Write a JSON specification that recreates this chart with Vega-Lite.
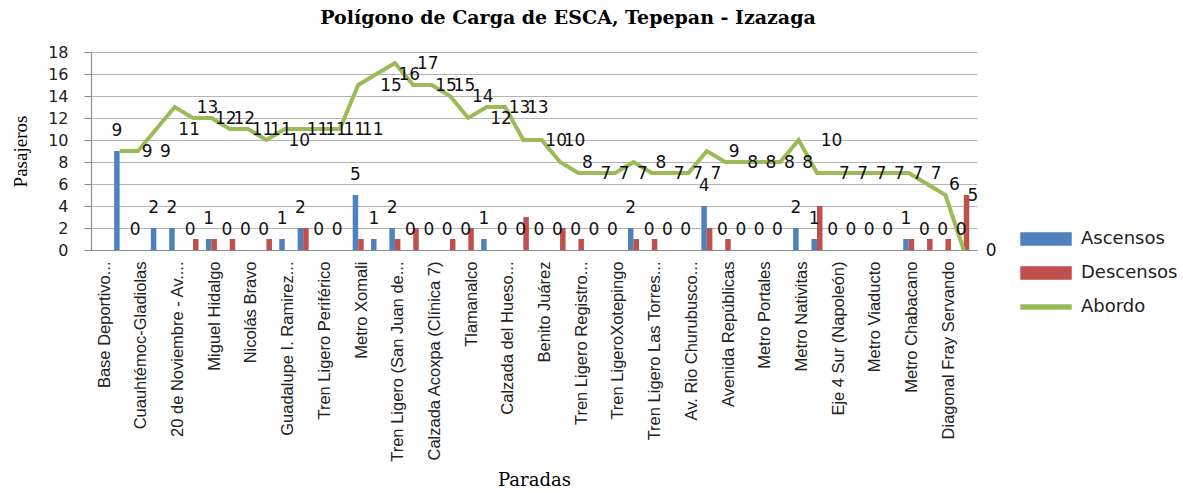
{
  "$schema": "https://vega.github.io/schema/vega-lite/v6.json",
  "width": 886,
  "height": 198,
  "autosize": {"type": "none"},
  "padding": {"left": 91, "top": 52, "right": 206, "bottom": 243},
  "background": "white",
  "params": [
    {"name": "nombresParadas", "value": ["Base Deportivo...", "", "Cuauhtémoc-Gladiolas", "", "20 de Noviembre - Av....", "", "Miguel Hidalgo", "", "Nicolás Bravo", "", "Guadalupe I.  Ramirez...", "", "Tren Ligero Periférico", "", "Metro Xomali", "", "Tren Ligero (San Juan de...", "", "Calzada Acoxpa (Clínica 7)", "", "Tlamanalco", "", "Calzada del Hueso...", "", "Benito Juárez", "", "Tren Ligero Registro...", "", "Tren LigeroXotepingo", "", "Tren Ligero Las Torres...", "", "Av. Rio Churubusco...", "", "Avenida Repúblicas", "", "Metro Portales", "", "Metro Nativitas", "", "Eje 4 Sur (Napoleón)", "", "Metro Viaducto", "", "Metro Chabacano", "", "Diagonal Fray Servando"]}
  ],
  "title": {
    "text": "Polígono de Carga de  ESCA, Tepepan - Izazaga",
    "font": "DejaVu Serif",
    "fontSize": 19,
    "fontWeight": "bold",
    "color": "black",
    "anchor": "middle",
    "frame": "group",
    "dx": 34,
    "dy": 8,
    "baseline": "alphabetic",
    "offset": 9
  },
  "data": {
    "values": [
      {"orden": 0, "parada": "Base Deportivo...", "Ascensos": 9, "Descensos": 0, "Abordo": 9},
      {"orden": 1, "parada": null, "Ascensos": 0, "Descensos": 0, "Abordo": 9},
      {"orden": 2, "parada": "Cuauhtémoc-Gladiolas", "Ascensos": 2, "Descensos": 0, "Abordo": 11},
      {"orden": 3, "parada": null, "Ascensos": 2, "Descensos": 0, "Abordo": 13},
      {"orden": 4, "parada": "20 de Noviembre - Av....", "Ascensos": 0, "Descensos": 1, "Abordo": 12},
      {"orden": 5, "parada": null, "Ascensos": 1, "Descensos": 1, "Abordo": 12},
      {"orden": 6, "parada": "Miguel Hidalgo", "Ascensos": 0, "Descensos": 1, "Abordo": 11},
      {"orden": 7, "parada": null, "Ascensos": 0, "Descensos": 0, "Abordo": 11},
      {"orden": 8, "parada": "Nicolás Bravo", "Ascensos": 0, "Descensos": 1, "Abordo": 10},
      {"orden": 9, "parada": null, "Ascensos": 1, "Descensos": 0, "Abordo": 11},
      {"orden": 10, "parada": "Guadalupe I.  Ramirez...", "Ascensos": 2, "Descensos": 2, "Abordo": 11},
      {"orden": 11, "parada": null, "Ascensos": 0, "Descensos": 0, "Abordo": 11},
      {"orden": 12, "parada": "Tren Ligero Periférico", "Ascensos": 0, "Descensos": 0, "Abordo": 11},
      {"orden": 13, "parada": null, "Ascensos": 5, "Descensos": 1, "Abordo": 15},
      {"orden": 14, "parada": "Metro Xomali", "Ascensos": 1, "Descensos": 0, "Abordo": 16},
      {"orden": 15, "parada": null, "Ascensos": 2, "Descensos": 1, "Abordo": 17},
      {"orden": 16, "parada": "Tren Ligero (San Juan de...", "Ascensos": 0, "Descensos": 2, "Abordo": 15},
      {"orden": 17, "parada": null, "Ascensos": 0, "Descensos": 0, "Abordo": 15},
      {"orden": 18, "parada": "Calzada Acoxpa (Clínica 7)", "Ascensos": 0, "Descensos": 1, "Abordo": 14},
      {"orden": 19, "parada": null, "Ascensos": 0, "Descensos": 2, "Abordo": 12},
      {"orden": 20, "parada": "Tlamanalco", "Ascensos": 1, "Descensos": 0, "Abordo": 13},
      {"orden": 21, "parada": null, "Ascensos": 0, "Descensos": 0, "Abordo": 13},
      {"orden": 22, "parada": "Calzada del Hueso...", "Ascensos": 0, "Descensos": 3, "Abordo": 10},
      {"orden": 23, "parada": null, "Ascensos": 0, "Descensos": 0, "Abordo": 10},
      {"orden": 24, "parada": "Benito Juárez", "Ascensos": 0, "Descensos": 2, "Abordo": 8},
      {"orden": 25, "parada": null, "Ascensos": 0, "Descensos": 1, "Abordo": 7},
      {"orden": 26, "parada": "Tren Ligero Registro...", "Ascensos": 0, "Descensos": 0, "Abordo": 7},
      {"orden": 27, "parada": null, "Ascensos": 0, "Descensos": 0, "Abordo": 7},
      {"orden": 28, "parada": "Tren LigeroXotepingo", "Ascensos": 2, "Descensos": 1, "Abordo": 8},
      {"orden": 29, "parada": null, "Ascensos": 0, "Descensos": 1, "Abordo": 7},
      {"orden": 30, "parada": "Tren Ligero Las Torres...", "Ascensos": 0, "Descensos": 0, "Abordo": 7},
      {"orden": 31, "parada": null, "Ascensos": 0, "Descensos": 0, "Abordo": 7},
      {"orden": 32, "parada": "Av. Rio Churubusco...", "Ascensos": 4, "Descensos": 2, "Abordo": 9},
      {"orden": 33, "parada": null, "Ascensos": 0, "Descensos": 1, "Abordo": 8},
      {"orden": 34, "parada": "Avenida Repúblicas", "Ascensos": 0, "Descensos": 0, "Abordo": 8},
      {"orden": 35, "parada": null, "Ascensos": 0, "Descensos": 0, "Abordo": 8},
      {"orden": 36, "parada": "Metro Portales", "Ascensos": 0, "Descensos": 0, "Abordo": 8},
      {"orden": 37, "parada": null, "Ascensos": 2, "Descensos": 0, "Abordo": 10},
      {"orden": 38, "parada": "Metro Nativitas", "Ascensos": 1, "Descensos": 4, "Abordo": 7},
      {"orden": 39, "parada": null, "Ascensos": 0, "Descensos": 0, "Abordo": 7},
      {"orden": 40, "parada": "Eje 4 Sur (Napoleón)", "Ascensos": 0, "Descensos": 0, "Abordo": 7},
      {"orden": 41, "parada": null, "Ascensos": 0, "Descensos": 0, "Abordo": 7},
      {"orden": 42, "parada": "Metro Viaducto", "Ascensos": 0, "Descensos": 0, "Abordo": 7},
      {"orden": 43, "parada": null, "Ascensos": 1, "Descensos": 1, "Abordo": 7},
      {"orden": 44, "parada": "Metro Chabacano", "Ascensos": 0, "Descensos": 1, "Abordo": 6},
      {"orden": 45, "parada": null, "Ascensos": 0, "Descensos": 1, "Abordo": 5},
      {"orden": 46, "parada": "Diagonal Fray Servando", "Ascensos": 0, "Descensos": 5, "Abordo": 0}
    ]
  },
  "encoding": {
    "x": {
      "field": "orden",
      "type": "ordinal",
      "scale": {"paddingInner": 0.4, "paddingOuter": 0.84, "align": 0.75},
      "axis": {
        "title": "Paradas",
        "values": [0, 2, 4, 6, 8, 10, 12, 14, 16, 18, 20, 22, 24, 26, 28, 30, 32, 34, 36, 38, 40, 42, 44, 46],
        "labelExpr": "nombresParadas[datum.value]",
        "labelAngle": -90,
        "labelFont": "Liberation Sans",
        "labelFontSize": 16.5,
        "labelColor": "#222222",
        "labelPadding": 11,
        "labelOffset": -15,
        "labelLimit": 400,
        "labelOverlap": false,
        "ticks": false,
        "domainColor": "#8C8C8C",
        "domainWidth": 1.2,
        "titleFont": "DejaVu Serif",
        "titleFontSize": 18,
        "titleFontWeight": "normal",
        "titleColor": "black",
        "titleBaseline": "alphabetic",
        "titleAlign": "center",
        "titleX": 443,
        "titleY": 235
      }
    }
  },
  "resolve": {"axis": {"y": "independent"}},
  "layer": [
    {
      "transform": [{"fold": ["Ascensos", "Descensos"], "as": ["serie", "valor"]}],
      "mark": {"type": "bar"},
      "encoding": {
        "xOffset": {"field": "serie", "type": "nominal", "scale": {"domain": ["Ascensos", "Descensos"], "paddingInner": 0, "paddingOuter": 0}},
        "y": {
          "field": "valor",
          "type": "quantitative",
          "title": "Pasajeros",
          "scale": {"domain": [0, 18], "nice": false},
          "axis": {
            "values": [0, 2, 4, 6, 8, 10, 12, 14, 16, 18],
            "labelOverlap": false,
            "grid": true,
            "gridColor": "#B4B4B4",
            "gridWidth": 1.2,
            "domainColor": "#8C8C8C",
            "domainWidth": 1.2,
            "tickColor": "#8C8C8C",
            "tickSize": 7,
            "labelFont": "DejaVu Sans",
            "labelFontSize": 16,
            "labelColor": "#222222",
            "labelPadding": 16,
            "titleFont": "Liberation Serif",
            "titleFontSize": 19,
            "titleFontWeight": "normal",
            "titleColor": "black",
            "titleX": -71,
            "titleY": 99,
            "titleAlign": "center",
            "titleBaseline": "middle"
          }
        },
        "color": {
          "field": "serie",
          "type": "nominal",
          "scale": {"domain": ["Ascensos", "Descensos", "Abordo"], "range": ["#4F81BD", "#C0504D", "#9BBB59"]},
          "legend": {
            "orient": "none",
            "legendX": 946,
            "legendY": 178,
            "title": null,
            "symbolSize": 100,
            "labelFont": "DejaVu Sans",
            "labelFontSize": 18,
            "labelColor": "#222222",
            "labelOffset": 26,
            "rowPadding": 16,
            "encode": {
              "symbols": {
                "update": {
                  "shape": {"signal": "datum.value === 'Abordo' ? 'M-5,-0.4H5V0.4H-5Z' : 'M-5,-1.2H5V1.2H-5Z'"},
                  "fill": {"scale": "color", "field": "value"},
                  "stroke": {"value": "transparent"},
                  "opacity": {"value": 1}
                }
              }
            }
          }
        }
      }
    },
    {
      "mark": {"type": "line", "strokeWidth": 4, "strokeJoin": "miter"},
      "encoding": {
        "y": {"field": "Abordo", "type": "quantitative", "axis": null},
        "color": {"datum": "Abordo"}
      }
    },
    {
      "mark": {"type": "text", "font": "DejaVu Sans", "fontSize": 17, "color": "#111111", "baseline": "middle", "dy": -20},
      "encoding": {
        "xOffset": {"datum": "Ascensos"},
        "y": {"field": "Ascensos", "type": "quantitative", "axis": null},
        "text": {"field": "Ascensos", "type": "quantitative"}
      }
    },
    {
      "mark": {"type": "text", "font": "DejaVu Sans", "fontSize": 17, "color": "#111111", "baseline": "middle", "align": "left", "dx": 22, "dy": 1},
      "encoding": {
        "y": {"field": "Abordo", "type": "quantitative", "axis": null},
        "text": {"field": "Abordo", "type": "quantitative"}
      }
    }
  ],
  "config": {"view": {"stroke": null}}
}
